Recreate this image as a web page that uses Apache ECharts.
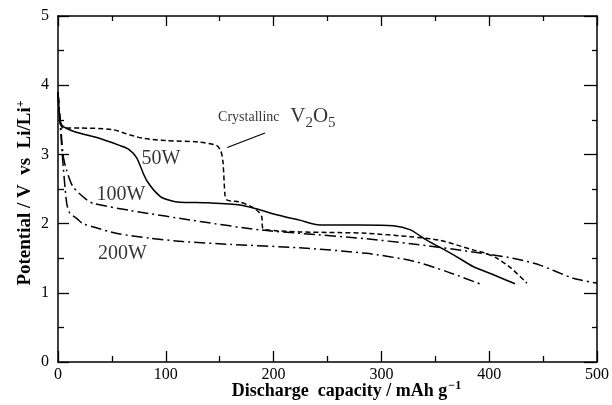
<!DOCTYPE html>
<html><head><meta charset="utf-8">
<script src="https://cdn.jsdelivr.net/npm/echarts@6/dist/echarts.min.js"></script>
<style>html,body{margin:0;padding:0;background:#fff}#c{width:612px;height:405px}</style>
</head><body><div id="c"></div>
<script>
// Discharge capacity (mAh g^-1) and potential (V vs Li/Li+)
const crystX = [0, 2, 5, 20, 50, 67, 80, 100, 130, 147, 151, 153, 155, 157, 169, 180, 186, 189, 190, 200, 224, 260, 286, 327, 354, 385, 397, 407, 420, 435];
const crystY = [3.9, 3.45, 3.38, 3.38, 3.36, 3.28, 3.23, 3.20, 3.18, 3.13, 3.05, 2.9, 2.4, 2.34, 2.31, 2.24, 2.17, 2.1, 1.93, 1.9, 1.88, 1.87, 1.86, 1.81, 1.76, 1.62, 1.57, 1.50, 1.36, 1.14];
const w50X = [0, 2, 5, 17, 39, 57, 66, 73, 82, 95, 105, 113, 140, 169, 187, 200, 224, 243, 280, 311, 327, 342, 354, 370, 385, 404, 424];
const w50Y = [3.9, 3.49, 3.40, 3.32, 3.23, 3.13, 3.07, 2.95, 2.63, 2.39, 2.33, 2.31, 2.30, 2.27, 2.20, 2.14, 2.05, 1.98, 1.98, 1.97, 1.91, 1.76, 1.66, 1.52, 1.38, 1.26, 1.13];
const w100X = [0, 3, 5, 8, 14, 27, 33, 67, 132, 187, 224, 286, 327, 385, 422, 447, 478, 500];
const w100Y = [3.9, 3.3, 2.96, 2.77, 2.53, 2.34, 2.29, 2.19, 2.03, 1.91, 1.86, 1.78, 1.71, 1.59, 1.50, 1.40, 1.21, 1.14];
const w200X = [0, 4, 8, 11, 17, 23, 33, 54, 85, 116, 160, 224, 286, 329, 360, 393];
const w200Y = [3.9, 3.0, 2.3, 2.15, 2.08, 2.0, 1.95, 1.86, 1.79, 1.74, 1.70, 1.65, 1.57, 1.46, 1.31, 1.12];
const xTicks = [0, 100, 200, 300, 400, 500];
const yTicks = [0, 1, 2, 3, 4, 5];
const labels = [
  {name: '50W', x: 95.5, y: 2.94},
  {name: '100W', x: 58.4, y: 2.42},
  {name: '200W', x: 59.8, y: 1.57}
];
const crystLabel = {x: 177, y: 3.54};
const v2o5Label = {x: 236.5, y: 3.53};
const arrowFrom = [192, 3.31], arrowTo = [157, 3.10];

const zip = (a, b) => a.map((v, i) => [v, b[i]]);
const serif = 'Liberation Serif';
const black = '#000';
const dashDot = [11, 4, 2, 4];

const axCommon = (extra) => Object.assign({
  min: 0,
  axisLine: {show: true, onZero: false, lineStyle: {color: black, width: 1.5}},
  axisTick: {show: true, inside: true, length: 11, lineStyle: {color: black, width: 1.3}},
  minorTick: {show: true, splitNumber: 2, length: 6, lineStyle: {color: black, width: 1.3}},
  splitLine: {show: false},
  axisLabel: {show: false}
}, extra);

const lineSeries = (name, x, y, type) => ({
  name, type: 'line', data: zip(x, y), showSymbol: false, symbol: 'none',
  smooth: 0.25, lineStyle: {color: black, width: 1.5, type: type}, z: 3
});

const chart = echarts.init(document.getElementById('c'), null, {renderer: 'canvas'});
chart.setOption({
  animation: false,
  backgroundColor: '#fff',
  grid: {left: 58, right: 15, top: 16, bottom: 43, containLabel: false, outerBoundsMode: 'none'},
  xAxis: [
    axCommon({type: 'value', position: 'bottom', max: 500, interval: 100,
      axisLabel: {show: true, margin: 5, color: black, fontFamily: serif, fontSize: 16,
        formatter: v => xTicks.includes(v) ? String(v) : ''},
      name: '{b|Discharge  capacity / mAh g}{s|\u22121}',
      nameLocation: 'middle', nameGap: 16, nameMoveOverlap: false,
      nameTextStyle: {padding: [0, 0, 0, 38], rich: {
        b: {fontFamily: serif, fontWeight: 'bold', fontSize: 18, color: black, lineHeight: 22, verticalAlign: 'bottom'},
        s: {fontFamily: serif, fontWeight: 'bold', fontSize: 12, color: black, lineHeight: 22, verticalAlign: 'bottom', padding: [0, 0, 8, 1]}
      }}
    }),
    axCommon({type: 'value', position: 'top', max: 500, interval: 100,
      axisTick: {show: true, inside: true, length: 10, lineStyle: {color: black, width: 1.3}},
      minorTick: {show: true, splitNumber: 2, length: 5, lineStyle: {color: black, width: 1.3}}})
  ],
  yAxis: [
    axCommon({type: 'value', position: 'left', max: 5, interval: 1,
      axisLabel: {show: true, margin: 9, color: black, fontFamily: serif, fontSize: 16,
        formatter: v => yTicks.includes(v) ? String(v) : ''},
      name: '{b|Potential / V  vs  Li/Li}{s|+}',
      nameLocation: 'middle', nameGap: 23, nameRotate: 90, nameMoveOverlap: false,
      nameTextStyle: {padding: [0, 8, 0, 0], rich: {
        b: {fontFamily: serif, fontWeight: 'bold', fontSize: 19, color: black, lineHeight: 22, verticalAlign: 'bottom'},
        s: {fontFamily: serif, fontWeight: 'bold', fontSize: 12, color: black, lineHeight: 22, verticalAlign: 'bottom', padding: [0, 0, 8, 0]}
      }}
    }),
    axCommon({type: 'value', position: 'right', max: 5, interval: 1,
      axisTick: {show: true, inside: true, length: 13, lineStyle: {color: black, width: 1.3}},
      minorTick: {show: true, splitNumber: 2, length: 5, lineStyle: {color: black, width: 1.3}}})
  ],
  series: [
    Object.assign(lineSeries('Crystalline V2O5', crystX, crystY, [5, 3]), {
      markLine: {
        silent: true, symbol: ['none', 'arrow'], symbolSize: [0, 10],
        lineStyle: {color: black, width: 1.2, type: 'solid'}, label: {show: false},
        data: [[{coord: arrowFrom}, {coord: arrowTo}]]
      }
    }),
    lineSeries('50W', w50X, w50Y, 'solid'),
    lineSeries('100W', w100X, w100Y, dashDot),
    lineSeries('200W', w200X, w200Y, dashDot),
    {
      type: 'scatter', symbolSize: 0, silent: true, z: 5,
      data: labels.map(l => ({value: [l.x, l.y], name: l.name})),
      label: {show: true, position: 'inside', formatter: p => p.name,
        fontFamily: serif, fontSize: 20, color: black}
    },
    {
      type: 'scatter', symbolSize: 0, silent: true, z: 5,
      data: [
        {value: [crystLabel.x, crystLabel.y], label: {formatter: 'Crystallinc', fontFamily: serif, fontSize: 14, color: black}},
        {value: [v2o5Label.x, v2o5Label.y], label: {formatter: '{m|V}{d|2}{m|O}{d|5}', rich: {
          m: {fontFamily: serif, fontSize: 21, color: black, lineHeight: 26, verticalAlign: 'bottom', padding: [0, 0, 4, 0]},
          d: {fontFamily: serif, fontSize: 15, color: black, lineHeight: 26, verticalAlign: 'bottom', padding: [0, 0, 0, 0]}
        }}}
      ],
      label: {show: true, position: 'inside'}
    }
  ]
});
</script></body></html>
